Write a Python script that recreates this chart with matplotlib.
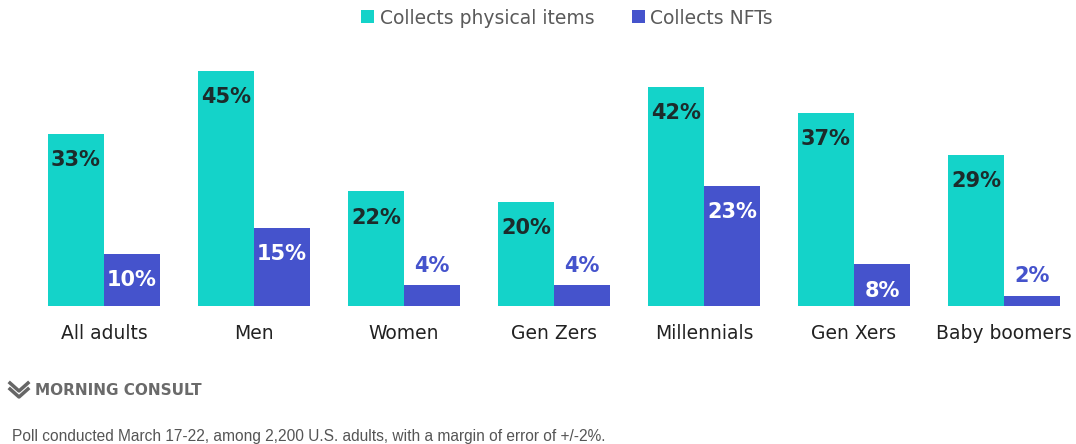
import matplotlib
matplotlib.use("Agg")
import matplotlib.pyplot as plt
from matplotlib.lines import Line2D
import numpy as np

categories = ["All adults", "Men", "Women", "Gen Zers", "Millennials", "Gen Xers", "Baby boomers"]
physical = [33, 45, 22, 20, 42, 37, 29]
nfts = [10, 15, 4, 4, 23, 8, 2]
series_names = ["Collects physical items", "Collects NFTs"]

TEAL = "#14d3c9"
BLUE = "#4553cc"
DARK = "#1c2b2b"

W, H = 1076, 444
fig = plt.figure(figsize=(W / 100, H / 100), dpi=100)
# axes: baseline at y=306 px, 50% at y=45 px; group i center at 104+150*i px
ax = fig.add_axes([0, (H - 306) / H, 1, (306 - 45) / H])
ax.set_xlim(-104 / 150, -104 / 150 + W / 150)
ax.set_ylim(0, 50)

x = np.arange(len(categories))
bw = 56 / 150
b1 = ax.bar(x - bw / 2, physical, bw, color=TEAL, label=series_names[0])
b2 = ax.bar(x + bw / 2, nfts, bw, color=BLUE, label=series_names[1])

for rect, v in zip(b1, physical):
    ax.annotate(f"{v}%", (rect.get_x() + rect.get_width() / 2, v),
                xytext=(0, -19), textcoords="offset points", ha="center", va="center",
                fontsize=15, fontweight="bold", color=DARK)
for rect, v in zip(b2, nfts):
    if v >= 8:
        ax.annotate(f"{v}%", (rect.get_x() + rect.get_width() / 2, v),
                    xytext=(0, -19), textcoords="offset points", ha="center", va="center",
                    fontsize=15, fontweight="bold", color="white")
    else:
        ax.annotate(f"{v}%", (rect.get_x() + rect.get_width() / 2, v),
                    xytext=(0, 14), textcoords="offset points", ha="center", va="center",
                    fontsize=15, fontweight="bold", color=BLUE)

ax.set_xticks(x)
ax.set_xticklabels(categories, fontsize=13.5, color="#222222")
ax.tick_params(axis="x", length=0, pad=13)
ax.set_yticks([])
for s in ax.spines.values():
    s.set_visible(False)

fig.legend(handles=[b1, b2], labels=series_names, loc="center",
           bbox_to_anchor=(567 / W, 1 - 18 / H), ncol=2, frameon=False,
           fontsize=13.5, labelcolor="#5a5a5a", handlelength=0.7, handleheight=0.7,
           handletextpad=0.3, columnspacing=2.0)

# Morning Consult logo mark
def px(xp, yp):
    return xp / W, 1 - yp / H
for y0 in (383, 389):
    pts = [px(10, y0), px(19, y0 + 8), px(28, y0)]
    fig.add_artist(Line2D([p[0] for p in pts], [p[1] for p in pts],
                          color="#666666", lw=2.5))
fig.text(35 / W, 1 - 390 / H, "MORNING CONSULT", fontsize=11, fontweight="bold",
         color="#6a6a6a", ha="left", va="center")
fig.text(12 / W, 1 - 436 / H,
         "Poll conducted March 17-22, among 2,200 U.S. adults, with a margin of error of +/-2%.",
         fontsize=11.2, family="Liberation Sans", color="#555555", ha="left", va="center")

fig.savefig("out.png", dpi=100, facecolor="white")
